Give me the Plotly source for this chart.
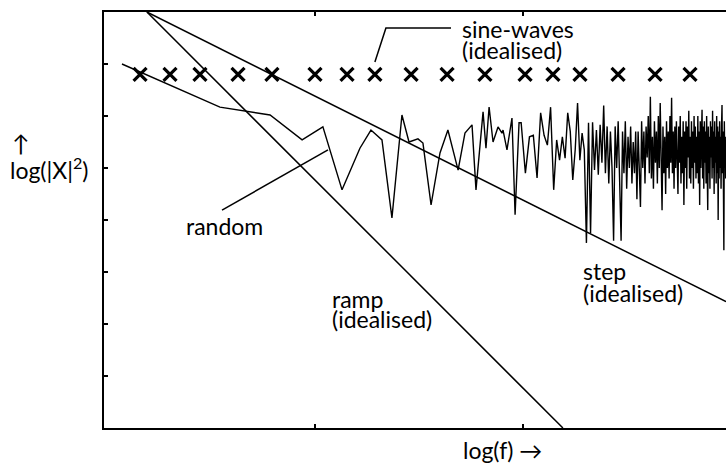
import math
import plotly.graph_objects as go

# x axis: log(f) in decades, y axis: log(|X|^2) in decades
X_RANGE = [-0.0144, 2.976]
Y_RANGE = [0, 8]
Y_TICKS = [1, 2, 3, 4, 5, 6, 7]
X_TICKS = [1, 2]

# idealised spectra (end points)
ramp_x = [0.192, 2.192]
ramp_y = [8.0, 0.0]
step_x = [0.192, 2.976]
step_y = [8.0, 2.43]

# sine waves (idealised): single lines
sine_x = [0.159, 0.303, 0.447, 0.630, 0.793, 1.000, 1.154, 1.288, 1.462,
          1.635, 1.817, 2.010, 2.144, 2.274, 2.457, 2.635, 2.803]
sine_y = [6.8] * len(sine_x)

# random signal: low-frequency part (read vertex by vertex)
rand_low_x = [0.072, 0.543, 0.784, 0.938, 1.038, 1.130, 1.216, 1.269, 1.322,
              1.370, 1.418, 1.452, 1.495, 1.519, 1.558, 1.601, 1.639, 1.688,
              1.721, 1.755, 1.774, 1.808, 1.822, 1.837, 1.856, 1.880, 1.899,
              1.904, 1.923, 1.947, 1.962, 1.981]
rand_low_y = [7.00, 6.17, 6.02, 5.54, 5.79, 4.58, 5.38, 5.73, 5.54, 4.04,
              6.02, 5.50, 5.56, 5.48, 4.29, 5.29, 5.73, 4.96, 5.67, 5.83,
              4.58, 6.08, 5.38, 6.17, 5.50, 5.79, 5.67, 5.73, 5.35, 5.96,
              4.10, 5.87]

# random signal: high-frequency part, harmonics 83, 87, 91, ...
RAND_LOG_F0 = 0.072
RAND_K_START = 83
RAND_K_STEP = 4
rand_high_y = [
    5.87, 4.9, 5.6, 5.63, 4.81, 6.06, 5.63, 5.44, 6.17, 4.58, 5.54, 5.15,
    5.6, 5.19, 6.06, 5.7, 4.77, 5.35, 6.25, 5.15, 5.67, 5.35, 3.56, 5.87,
    3.75, 5.88, 4.96, 5.73, 4.87, 5.83,
    5.1, 6.2, 4.9, 5.8, 4.7, 5.7, 5.0, 3.6, 5.8, 5.0, 5.9, 4.8, 3.6, 5.7,
    4.9, 5.9, 4.6, 5.6, 5.0, 5.8, 4.7, 5.5, 4.9, 5.7, 4.4,
    5.7, 4.8, 4.25, 5.9, 5.0, 5.7, 4.7, 5.8, 5.2, 6.0, 4.9, 6.37, 4.8, 5.6,
    4.6, 5.9, 5.1, 5.7, 4.7, 6.0, 5.0, 6.25, 5.2, 4.19, 5.8, 4.9, 5.6, 4.5,
    5.9, 5.0, 5.7, 4.8, 6.0, 5.1, 6.35, 4.9, 5.7, 4.6, 5.8, 5.0, 5.9, 4.8,
    4.5, 5.8, 5.1, 6.0, 4.7, 5.6, 4.9, 5.9, 4.29, 5.7, 5.0, 5.9, 4.6, 5.8,
    5.2, 6.1, 4.8, 5.6, 4.7, 5.9, 5.0, 5.7, 4.6, 6.0, 5.1, 5.8, 4.8, 5.6,
    4.9, 6.0, 4.7, 5.7, 4.29, 5.9, 5.0, 5.6, 6.12, 4.8, 5.8, 4.6, 5.9, 5.1,
    5.7, 4.7, 6.0, 5.0, 4.19, 5.8, 4.9, 5.6, 4.6, 5.9, 5.2, 5.8, 4.8, 6.1,
    5.0, 5.7, 4.5, 5.9, 5.1, 5.6, 4.7, 6.0, 4.9, 5.8, 4.0, 5.7, 4.8, 5.9,
    5.0, 5.6, 4.6, 5.8, 6.21, 4.9, 5.7, 4.7, 3.42, 5.9, 5.0, 5.6, 4.8,
]
rand_high_x = [RAND_LOG_F0 + math.log10(RAND_K_START + RAND_K_STEP * i)
               for i in range(len(rand_high_y))]

rand_x = rand_low_x + rand_high_x
rand_y = rand_low_y + rand_high_y

# annotation pointer lines
sine_ptr_x = [1.654, 1.341, 1.288]
sine_ptr_y = [7.69, 7.69, 7.04]
rand_ptr_x = [0.553, 1.0625]
rand_ptr_y = [4.19, 5.35]

FONT = "Lato"
FS = 23
LINE = dict(color="black", width=1.5)

fig = go.Figure()
fig.add_trace(go.Scatter(x=ramp_x, y=ramp_y, mode="lines", line=LINE))
fig.add_trace(go.Scatter(x=step_x, y=step_y, mode="lines", line=LINE))
fig.add_trace(go.Scatter(x=rand_x, y=rand_y, mode="lines",
                         line=dict(color="black", width=1.4)))
fig.add_trace(go.Scatter(x=sine_x, y=sine_y, mode="markers",
                         marker=dict(symbol="x-thin", size=13,
                                     line=dict(color="black", width=3.2))))
fig.add_trace(go.Scatter(x=sine_ptr_x, y=sine_ptr_y, mode="lines", line=LINE))
fig.add_trace(go.Scatter(x=rand_ptr_x, y=rand_ptr_y, mode="lines", line=LINE))

def label(text, x, y, xanchor="left"):
    fig.add_annotation(text=text, x=x, y=y, xref="x", yref="y",
                       xanchor=xanchor, yanchor="middle", showarrow=False,
                       font=dict(family=FONT, size=FS, color="black"))

label("sine-waves", 1.697, 7.67)
label("(idealised)", 1.697, 7.27)
label("random", 0.563, 3.88, xanchor="center")
label("ramp", 1.072, 2.48)
label("(idealised)", 1.072, 2.10)
label("step", 2.279, 3.02)
label("(idealised)", 2.279, 2.60)

fig.add_annotation(text="log(f) →", x=0.641, y=-0.053, xref="paper", yref="paper",
                   xanchor="center", yanchor="middle", showarrow=False,
                   font=dict(family=FONT, size=FS, color="black"))
fig.add_annotation(text="↑", x=-0.151, y=0.685, xref="paper", yref="paper",
                   xanchor="left", yanchor="middle", showarrow=False,
                   font=dict(family=FONT, size=FS, color="black"))
fig.add_annotation(text="log(|X|<sup>2</sup>)", x=-0.155, y=0.625, xref="paper",
                   yref="paper", xanchor="left", yanchor="middle", showarrow=False,
                   font=dict(family=FONT, size=FS, color="black"))

fig.update_layout(
    width=726, height=464,
    margin=dict(l=104, r=0, t=12, b=36),
    paper_bgcolor="white", plot_bgcolor="white",
    showlegend=False,
    xaxis=dict(range=X_RANGE, showgrid=False, zeroline=False,
               showline=True, linecolor="black", linewidth=1.5, mirror="ticks",
               ticks="inside", ticklen=4, tickwidth=1.5, tickcolor="black",
               tickvals=X_TICKS, showticklabels=False),
    yaxis=dict(range=Y_RANGE, showgrid=False, zeroline=False,
               showline=True, linecolor="black", linewidth=1.5, mirror=False,
               ticks="inside", ticklen=4, tickwidth=1.5, tickcolor="black",
               tickvals=Y_TICKS, showticklabels=False),
)

# remove the page's default body margin so the figure fills the window exactly
fig.write_html(
    "out.html",
    config={"displayModeBar": False},
    post_script="document.body.style.margin='0';document.body.style.overflow='hidden';",
)
